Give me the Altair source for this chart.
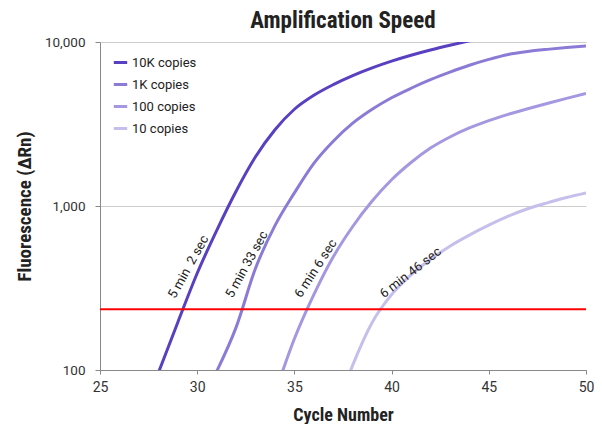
import altair as alt
import pandas as pd

series_names = ["10K copies", "1K copies", "100 copies", "10 copies"]
series_colors = ["#5940C0", "#8C7BD6", "#A597E0", "#C7BFEB"]

cycles_10k = list(range(28, 46))
vals_10k = [96, 195, 389, 708, 1230, 1995, 2917, 3890, 4732, 5495, 6237, 6950, 7638, 8299, 8933, 9550, 10162, 10765]

cycles_1k = list(range(31, 51))
vals_1k = [98, 182, 417, 759, 1202, 1820, 2483, 3199, 3890, 4571, 5224, 5888, 6546, 7211, 7834, 8395, 8750, 9016, 9247, 9441]

cycles_100 = list(range(34, 51))
vals_100 = [72, 155, 288, 490, 750, 1072, 1445, 1841, 2254, 2636, 2992, 3319, 3622, 3917, 4217, 4529, 4853]

cycles_10 = list(range(37, 51))
vals_10 = [50, 107, 195, 288, 380, 473, 569, 665, 764, 867, 962, 1045, 1127, 1202]

threshold = 235

ann_text = ["5 min\u00a0 2 sec", "5 min 33 sec", "6 min 6 sec", "6 min 46 sec"]
ann_x = [29.55, 32.55, 36.1, 40.98]
ann_y = [425, 440, 416, 392]
ann_angle = [299, 299, 303, 322]

rows = []
for name, cs, vs in zip(series_names, [cycles_10k, cycles_1k, cycles_100, cycles_10],
                        [vals_10k, vals_1k, vals_100, vals_10]):
    for c, v in zip(cs, vs):
        rows.append({"series": name, "cycle": c, "value": v})
df = pd.DataFrame(rows)

ann_df = pd.DataFrame({"text": ann_text, "x": ann_x, "y": ann_y, "angle": ann_angle})
thr_df = pd.DataFrame({"x": [25], "x2": [50], "y": [threshold]})

TITLE_FONT = "Roboto Condensed, Liberation Sans Narrow, Roboto"
LABEL_FONT = "Roboto"

xscale = alt.Scale(domain=[25, 50], nice=False)
yscale = alt.Scale(type="log", domain=[100, 10000], nice=False)

lines = alt.Chart(df).mark_line(strokeWidth=3, clip=True, interpolate="monotone").encode(
    x=alt.X("cycle:Q", scale=xscale,
            axis=alt.Axis(title="Cycle Number", values=[25, 30, 35, 40, 45, 50], grid=False,
                          labelFlush=False,
                          tickSize=4, labelPadding=6, labelFontSize=14, labelFont=LABEL_FONT,
                          labelColor="#333", titleFont=TITLE_FONT, titleFontSize=18,
                          titleFontWeight="bold", titleColor="#222", titleBaseline="middle",
                          titleY=45, domainColor="#888", tickColor="#888")),
    y=alt.Y("value:Q", scale=yscale,
            axis=alt.Axis(title="Fluorescence (ΔRn)", values=[100, 1000, 10000], format=",",
                          grid=True, gridColor="#cccccc", tickSize=5, labelPadding=10,
                          labelFontSize=13.5, labelFont=LABEL_FONT, labelColor="#333",
                          titleFont=TITLE_FONT, titleFontSize=19, titleFontWeight="bold",
                          titleColor="#222", titleAngle=270, titleBaseline="middle",
                          titleAlign="center", titleX=-76, titleY=164,
                          domainColor="#888", tickColor="#888")),
    color=alt.Color("series:N", sort=series_names,
                    scale=alt.Scale(domain=series_names, range=series_colors),
                    legend=alt.Legend(title=None, orient="none", legendX=12, legendY=12,
                                      symbolType="stroke", symbolSize=180, symbolStrokeWidth=3,
                                      labelFontSize=13, labelFont=LABEL_FONT, labelColor="#222",
                                      rowPadding=6, labelOffset=3)),
)

thr = alt.Chart(thr_df).mark_rule(color="#ff0000", strokeWidth=2).encode(
    x=alt.X("x:Q", scale=xscale), x2="x2:Q", y=alt.Y("y:Q", scale=yscale)
)

ann = alt.Chart(ann_df).mark_text(fontSize=13, font=LABEL_FONT, color="#222",
                                  align="center", baseline="middle").encode(
    x=alt.X("x:Q", scale=xscale), y=alt.Y("y:Q", scale=yscale),
    text="text:N", angle=alt.Angle("angle:Q", scale=None)
)

chart = alt.layer(lines, thr, ann).properties(
    width=486, height=328,
    title=alt.TitleParams("Amplification Speed", font=TITLE_FONT, fontSize=23,
                          fontWeight="bold", color="#222", anchor="middle", offset=2),
    autosize=alt.AutoSizeParams(type="none"),
    padding={"left": 92, "top": 34, "right": 8, "bottom": 54},
).configure_view(stroke=None)

chart.save("out.html", embed_options={"renderer": "svg", "actions": False})
